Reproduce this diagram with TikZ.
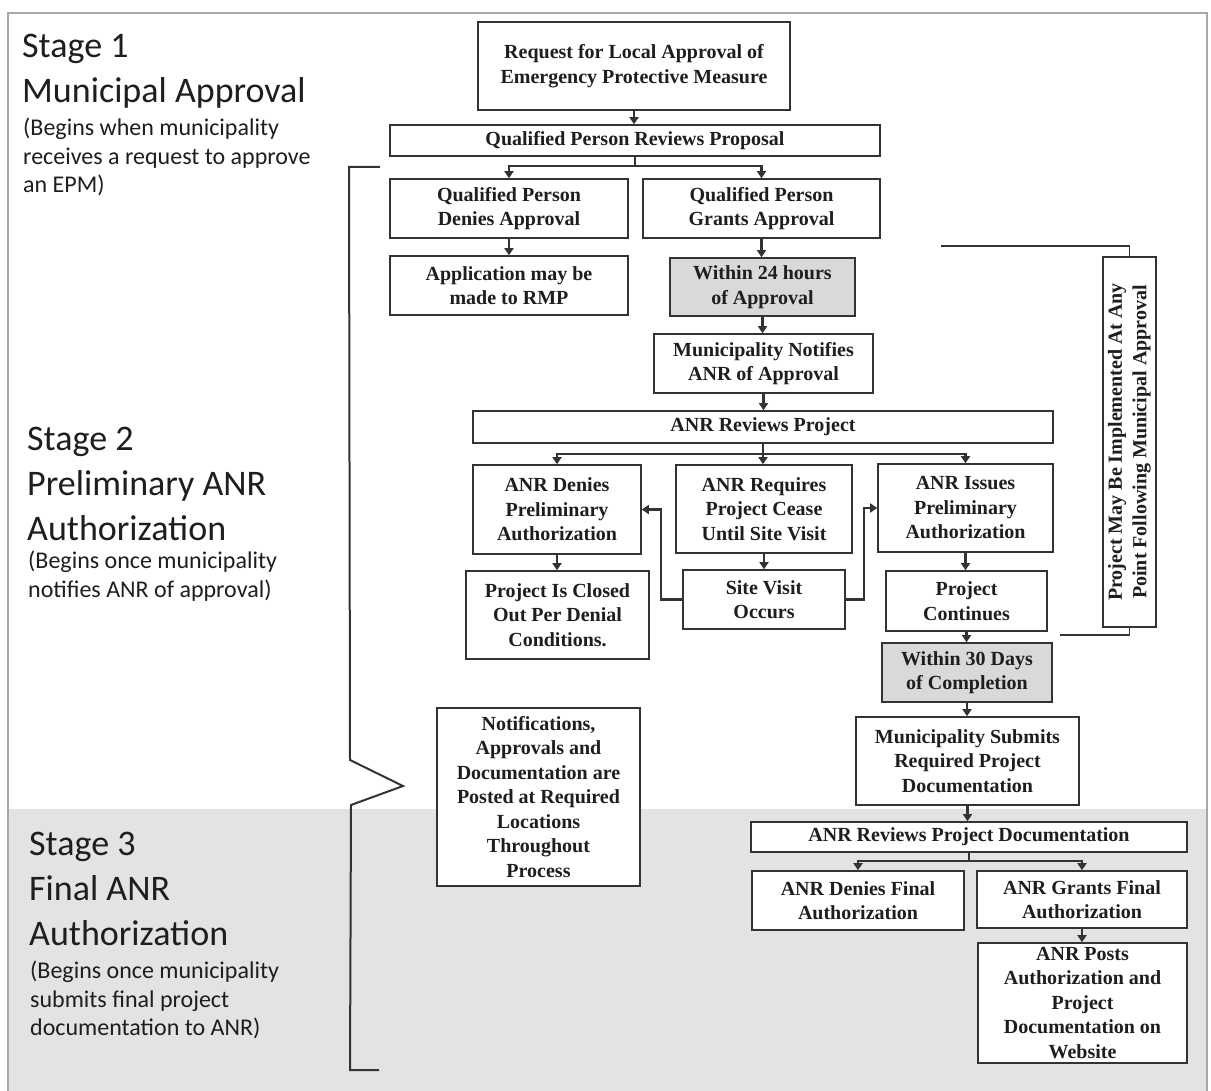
\documentclass[tikz,border=0pt]{standalone}
\usepackage{fontspec}
\setmainfont{Liberation Serif}
\newfontfamily\stagefont{Carlito}
\usetikzlibrary{arrows.meta}
\definecolor{lncol}{HTML}{333333}
\definecolor{band}{HTML}{E3E3E3}
\definecolor{shade}{HTML}{D9D9D9}
\definecolor{framecol}{HTML}{A8A8A8}
\definecolor{txt}{HTML}{1E1E1E}
\begin{document}
\begin{tikzpicture}[x=1pt,y=-1pt,
  box/.style={draw=lncol, line width=1.6pt, fill=white, align=center, inner sep=1pt,
    font=\bfseries\fontsize{20}{24.5}\selectfont, text=txt},
  shadebox/.style={box, fill=shade},
  conn/.style={draw=lncol, line width=2.2pt},
  arr/.style={conn, -{Triangle[length=7pt,width=9pt]}},
  stagehead/.style={anchor=north west, inner sep=0pt, align=left, text=txt,
    font=\stagefont\fontsize{36}{45}\selectfont},
  stagesub/.style={anchor=north west, inner sep=0pt, align=left, text=txt,
    font=\stagefont\fontsize{24}{28.5}\selectfont}]
\useasboundingbox (0,0) rectangle (1211,1091);
\fill[white] (0,0) rectangle (1211,1091);
% stage 3 band
\fill[band] (9,809) rectangle (1206,1091);
% frame
\draw[framecol, line width=2pt] (8,1091) -- (8,13) -- (1207,13) -- (1207,1091);

% stage labels
\node[stagehead] (s1h) at (22,34) {Stage 1\\Municipal Approval};
\node[stagesub] (s1s) at (23,118) {(Begins when municipality\\receives a request to approve\\an EPM)};
\node[stagehead] (s2h) at (27,427) {Stage 2\\Preliminary ANR\\Authorization};
\node[stagesub] (s2s) at (28,551) {(Begins once municipality\\notifies ANR of approval)};
\node[stagehead] (s3h) at (29,832) {Stage 3\\Final ANR\\Authorization};
\node[stagesub] (s3s) at (30,961) {(Begins once municipality\\submits final project\\documentation to ANR)};

% boxes
\node[box, minimum width=312, minimum height=88] (req) at (634,66) {Request for Local Approval of\\Emergency Protective Measure};
\node[box, minimum width=490, minimum height=31] (qprp) at (635,140.5) {Qualified Person Reviews Proposal};
\node[box, minimum width=238, minimum height=59] (qpd) at (509,208.5) {Qualified Person\\Denies Approval};
\node[box, minimum width=237, minimum height=59] (qpg) at (761.5,208.5) {Qualified Person\\Grants Approval};
\node[box, minimum width=238, minimum height=59] (app) at (509,285.5) {Application may be\\made to RMP};
\node[shadebox, minimum width=185, minimum height=58] (w24) at (762.5,287) {Within 24 hours\\of Approval};
\node[box, minimum width=219, minimum height=59] (mna) at (763.5,363.5) {Municipality Notifies\\ANR of Approval};
\node[box, minimum width=580, minimum height=32] (anrrp) at (763,427) {ANR Reviews Project};
\node[box, minimum width=168, minimum height=89] (anrd) at (557,509.5) {ANR Denies\\Preliminary\\Authorization};
\node[box, minimum width=176, minimum height=88] (anrreq) at (764,509) {ANR Requires\\Project Cease\\Until Site Visit};
\node[box, minimum width=175, minimum height=88] (anri) at (965.5,508) {ANR Issues\\Preliminary\\Authorization};
\node[box, minimum width=183, minimum height=88] (closed) at (557.5,615) {Project Is Closed\\Out Per Denial\\Conditions.};
\node[box, minimum width=162, minimum height=59] (site) at (764,599.5) {Site Visit\\Occurs};
\node[box, minimum width=161, minimum height=60] (cont) at (966.5,601) {Project\\Continues};
\node[shadebox, minimum width=170, minimum height=59] (w30) at (967,672.5) {Within 30 Days\\of Completion};
\node[box, minimum width=223, minimum height=88] (msub) at (967.5,761) {Municipality Submits\\Required Project\\Documentation};
\node[box, minimum width=436, minimum height=30] (anrrd) at (969,837) {ANR Reviews Project Documentation};
\node[box, minimum width=212, minimum height=59] (anrdf) at (858,900.5) {ANR Denies Final\\Authorization};
\node[box, minimum width=210, minimum height=57] (anrgf) at (1082,899.5) {ANR Grants Final\\Authorization};
\node[box, minimum width=209, minimum height=120] (posts) at (1082.5,1003) {ANR Posts\\Authorization and\\Project\\Documentation on\\Website};
\node[box, minimum width=203, minimum height=178] (notif) at (538.5,797) {Notifications,\\Approvals and\\Documentation are\\Posted at Required\\Locations\\Throughout\\Process};
\node[box, rotate=90, minimum width=370, minimum height=53] (vert) at (1129.5,442) {Project May Be Implemented At Any\\Point Following Municipal Approval};

% connectors
\coordinate (b1) at (635,166);
\coordinate (b2) at (763,454);
\coordinate (b3) at (969,861);
\draw[arr] (req.south) -- (req.south |- qprp.north);
\draw[conn] (qprp.south) -- (b1);
\draw[arr] (b1) -| (qpd.north);
\draw[arr] (b1) -| (qpg.north);
\draw[arr] (qpd.south) -- (app.north);
\draw[arr] (qpg.south) -- (qpg.south |- w24.north);
\draw[arr] (w24.south) -- (w24.south |- mna.north);
\draw[arr] (mna.south) -- (mna.south |- anrrp.north);
\draw[conn] (anrrp.south) -- (b2);
\draw[arr] (b2) -| (anrd.north);
\draw[arr] (b2) -- (b2 |- anrreq.north);
\draw[arr] (b2) -| (anri.north);
\draw[arr] (anrd.south) -- (anrd.south |- closed.north);
\draw[arr] (anrreq.south) -- (site.north);
\draw[arr] (anri.south) -- (anri.south |- cont.north);
\draw[arr] (site.west) -- ++(-21,0) |- (anrd.east);
\draw[arr] (site.east) -- ++(18,0) |- (anri.west);
\draw[arr] (cont.south) -- (cont.south |- w30.north);
\draw[arr] (w30.south) -- (w30.south |- msub.north);
\draw[arr] (msub.south) -- (msub.south |- anrrd.north);
\draw[conn] (anrrd.south) -- (b3);
\draw[arr] (b3) -| (anrdf.north);
\draw[arr] (b3) -| (anrgf.north);
\draw[arr] (anrgf.south) -- (anrgf.south |- posts.north);
% implementation bracket lines
\coordinate (vt) at (941,246);
\coordinate (vb) at (1060,635);
\draw[conn, line width=1.8pt] (vert.east) |- (vt);
\draw[conn, line width=1.8pt] (vert.west) |- (vb);
% big brace
\draw[conn, line width=2pt] (380,167) -- (349,167) -- (350,760) -- (403,786) -- (351,805) -- (350,1070) -- (379,1070);
\end{tikzpicture}
\end{document}
